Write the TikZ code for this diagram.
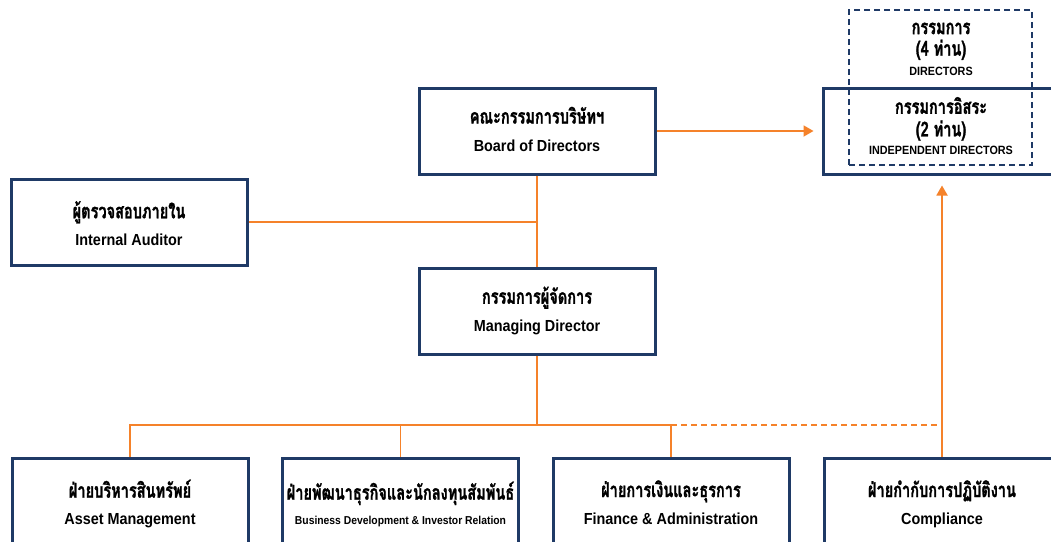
\documentclass[tikz,border=0pt]{standalone}
\usepackage{fontspec}
\setmainfont{Liberation Sans}[FakeStretch=0.9]
\newfontfamily\thai[Script=Thai,FakeStretch=0.71,FakeBold=1.2]{Loma}
\usetikzlibrary{arrows.meta}
\definecolor{navy}{HTML}{1F3A66}
\definecolor{orng}{HTML}{F5822A}
\tikzset{
  box/.style={draw=navy, line width=3pt, rectangle, minimum width=236pt, minimum height=86pt, inner sep=0pt, align=center},
  bbox/.style={box, minimum height=100pt},
  conn/.style={draw=orng, line width=1.8pt},
  arr/.style={conn, -{Triangle[width=11pt,length=10pt]}},
  txt/.style={align=center, inner sep=0pt},
}
\newcommand{\tht}[1]{{\thai\bfseries\fontsize{20.5}{22}\selectfont\strut #1}}
\newcommand{\ent}[1]{{\bfseries\fontsize{16}{18}\selectfont\strut #1}}
\newcommand{\ens}[1]{{\bfseries\fontsize{12}{14}\selectfont\strut #1}}
\begin{document}
\begin{tikzpicture}[x=1pt,y=-1pt]
\useasboundingbox (0,0) rectangle (1051,541);
\clip (0,0) rectangle (1051,541);
\fill[white] (0,0) rectangle (1051,541);
% nodes
\node[box] (bod) at (537,131) {};
\node[txt] (bodt) at (537,132) {\tht{คณะกรรมการบริษัทฯ}\\[8pt]\ent{Board of Directors}};
\node[box] (ia) at (129,222) {};
\node[txt] (iat) at (129,226) {\tht{ผู้ตรวจสอบภายใน}\\[7pt]\ent{Internal Auditor}};
\node[box] (md) at (537,311) {};
\node[txt] (mdt) at (537,312) {\tht{กรรมการผู้จัดการ}\\[8pt]\ent{Managing Director}};
\node[draw=navy, line width=1.5pt, dash pattern=on 6pt off 4pt, minimum width=183pt, minimum height=155pt, inner sep=0pt] (dir) at (940.5,87.5) {};
\node[txt] (dirtxt) at (941,49) {\tht{กรรมการ}\\[-2pt]\tht{(4 ท่าน)}\\[2pt]\ens{DIRECTORS}};
\node[box, minimum width=237pt] (ind) at (941.5,131) {};
\node[txt] (indt) at (941,128) {\tht{กรรมการอิสระ}\\[-1pt]\tht{(2 ท่าน)}\\[1pt]\ens{INDEPENDENT DIRECTORS}};
\node[bbox] (b1) at (130,508) {};
\node[bbox] (b2) at (400.5,508) {};
\node[bbox] (b3) at (671,508) {};
\node[bbox] (b4) at (942,508) {};
\node[txt] (t1) at (130,505) {\tht{ฝ่ายบริหารสินทรัพย์}\\[7pt]\ent{Asset Management}};
\node[txt] (t2) at (400.5,505) {\tht{ฝ่ายพัฒนาธุรกิจและนักลงทุนสัมพันธ์}\\[7pt]\ens{\fontsize{11.5}{13}\selectfont\strut Business Development \& Investor Relation}};
\node[txt] (t3) at (671,505) {\tht{ฝ่ายการเงินและธุรการ}\\[7pt]\ent{Finance \& Administration}};
\node[txt] (t4) at (942,505) {\tht{ฝ่ายกำกับการปฏิบัติงาน}\\[7pt]\ent{Compliance}};
\coordinate (bus) at (537,425);
% connectors
\draw[conn] (bod.south) -- (md.north);
\draw[conn] (ia.east) -- (ia.east -| bod.south);
\draw[arr, shorten >=8pt] (bod.east) -- (bod.east -| ind.west);
\draw[conn] (md.south) -- (bus);
\draw[conn] (b1.north) |- (bus);
\draw[conn] (b2.north) -- (b2.north |- bus);
\draw[conn] (b3.north) |- (bus);
\draw[conn, dash pattern=on 6pt off 4pt] (b3.north |- bus) -- (b4.north |- bus);
\draw[arr, shorten >=10pt] (b4.north) -- (b4.north |- ind.south);
\end{tikzpicture}
\end{document}
